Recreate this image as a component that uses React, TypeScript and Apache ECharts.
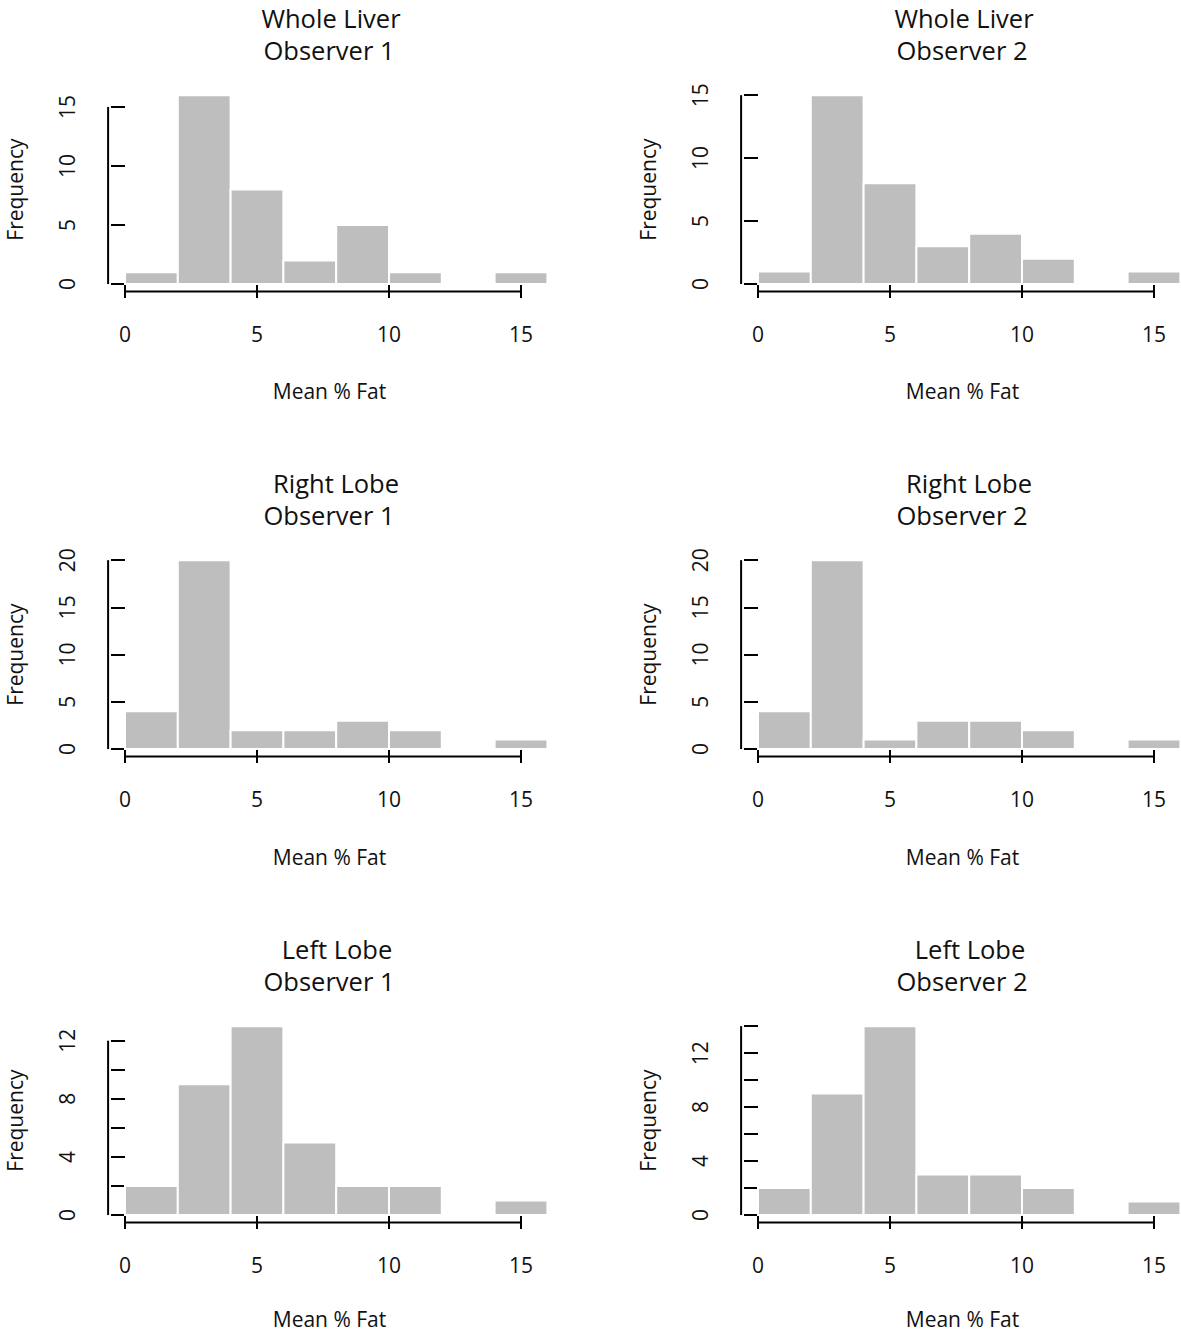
import React, { useEffect, useRef } from "react";
import * as echarts from "echarts";

// ---- data ----
const binEdges = [0, 2, 4, 6, 8, 10, 12, 14, 16];
const wholeLiverObs1 = [1, 16, 8, 2, 5, 1, 0, 1];
const wholeLiverObs2 = [1, 15, 8, 3, 4, 2, 0, 1];
const rightLobeObs1 = [4, 20, 2, 2, 3, 2, 0, 1];
const rightLobeObs2 = [4, 20, 1, 3, 3, 2, 0, 1];
const leftLobeObs1 = [2, 9, 13, 5, 2, 2, 0, 1];
const leftLobeObs2 = [2, 9, 14, 3, 3, 2, 0, 1];

const xTickValues = [0, 5, 10, 15];
const yTicksWhole = [0, 5, 10, 15];
const yTicksRight = [0, 5, 10, 15, 20];
const yTicksLeft1 = [0, 2, 4, 6, 8, 10, 12];
const yTicksLeft2 = [0, 2, 4, 6, 8, 10, 12, 14];
const yLabelsLeft = [0, 4, 8, 12];

const regionNames = ["Whole Liver", "Right Lobe", "Left Lobe"];
const observerNames = ["Observer 1", "Observer 2"];
const xAxisTitle = "Mean % Fat";
const yAxisTitle = "Frequency";

// ---- layout ----
const FONT = "'Open Sans', 'Noto Sans', sans-serif";
const CANVAS_W = 1181;
const PX_PER_X = 26.4;
const X_MIN = -0.64;
const PLOT_H = 204;
const colZeroX = [125, 758];
// right column is cropped at the canvas edge in the reference
const colXMax = [16.64, (CANVAS_W - 758) / PX_PER_X];
const rowTop = [87.6, 552.6, 1018.6];
const ROW_STEP = 465.5;
const xTitleY = [391, 856.5, 1319];

const panels = [
  { region: 0, obs: 0, counts: wholeLiverObs1, yTicks: yTicksWhole, yLabels: yTicksWhole, t1dx: 0 },
  { region: 0, obs: 1, counts: wholeLiverObs2, yTicks: yTicksWhole, yLabels: yTicksWhole, t1dx: 0 },
  { region: 1, obs: 0, counts: rightLobeObs1, yTicks: yTicksRight, yLabels: yTicksRight, t1dx: 5 },
  { region: 1, obs: 1, counts: rightLobeObs2, yTicks: yTicksRight, yLabels: yTicksRight, t1dx: 5 },
  { region: 2, obs: 0, counts: leftLobeObs1, yTicks: yTicksLeft1, yLabels: yLabelsLeft, t1dx: 6 },
  { region: 2, obs: 1, counts: leftLobeObs2, yTicks: yTicksLeft2, yLabels: yLabelsLeft, t1dx: 6 },
];

function buildOption() {
  const grid: any[] = [];
  const xAxis: any[] = [];
  const yAxis: any[] = [];
  const series: any[] = [];
  const graphic: any[] = [];

  panels.forEach((p, i) => {
    const col = p.obs;
    const row = p.region;
    const xMax = colXMax[col];
    const left = colZeroX[col] + X_MIN * PX_PER_X;
    const width = (xMax - X_MIN) * PX_PER_X;
    const top = rowTop[row];
    const yMax = Math.max(...p.counts);
    const yMin = -0.04 * yMax;
    const yTop = 1.04 * yMax;

    grid.push({ left, top, width, height: PLOT_H, containLabel: false });

    xAxis.push({
      type: "value",
      gridIndex: i,
      min: X_MIN,
      max: xMax,
      axisLine: { show: false },
      splitLine: { show: false },
      axisTick: {
        show: true,
        customValues: xTickValues,
        length: 14,
        lineStyle: { color: "#000", width: 2 },
      },
      axisLabel: {
        customValues: xTickValues,
        margin: 32,
        fontSize: 21,
        color: "#111",
        fontFamily: FONT,
      },
    });

    yAxis.push({
      type: "value",
      gridIndex: i,
      min: yMin,
      max: yTop,
      axisLine: { show: false },
      splitLine: { show: false },
      axisTick: {
        show: true,
        customValues: p.yTicks,
        length: 14,
        lineStyle: { color: "#000", width: 2 },
      },
      axisLabel: {
        customValues: p.yLabels,
        rotate: 90,
        margin: 31,
        fontSize: 21,
        color: "#111",
        fontFamily: FONT,
      },
    });

    const binData = p.counts.map((c, k) => [binEdges[k], binEdges[k + 1], c]);

    series.push({
      type: "custom",
      xAxisIndex: i,
      yAxisIndex: i,
      data: binData,
      clip: false,
      renderItem: (params: any, api: any) => {
        const c = api.value(2);
        if (!c) return null;
        const p0 = api.coord([api.value(0), c]);
        const p1 = api.coord([api.value(1), 0]);
        return {
          type: "rect",
          shape: { x: p0[0], y: p0[1], width: p1[0] - p0[0], height: p1[1] - p0[1] },
          style: { fill: "#bebebe", stroke: "#ffffff", lineWidth: 2 },
        };
      },
    });

    // x axis line from first to last tick (R style)
    series.push({
      type: "line",
      xAxisIndex: i,
      yAxisIndex: i,
      data: [
        [xTickValues[0], yMin],
        [xTickValues[xTickValues.length - 1], yMin],
      ],
      symbol: "none",
      clip: false,
      silent: true,
      lineStyle: { color: "#000", width: 2 },
    });
    // y axis line
    series.push({
      type: "line",
      xAxisIndex: i,
      yAxisIndex: i,
      data: [
        [X_MIN, p.yTicks[0]],
        [X_MIN, p.yTicks[p.yTicks.length - 1]],
      ],
      symbol: "none",
      clip: false,
      silent: true,
      lineStyle: { color: "#000", width: 2 },
    });

    const centerX = colZeroX[col] + 206;
    const rowOff = row * ROW_STEP;
    graphic.push({
      type: "text",
      x: centerX + p.t1dx,
      y: 17.5 + rowOff,
      style: {
        text: regionNames[p.region],
        fontSize: 25.5,
        lineHeight: 28,
        fontFamily: FONT,
        fill: "#111",
        align: "center",
        verticalAlign: "middle",
      },
    });
    graphic.push({
      type: "text",
      x: centerX - 2,
      y: 49.5 + rowOff,
      style: {
        text: observerNames[p.obs],
        fontSize: 25.5,
        lineHeight: 28,
        fontFamily: FONT,
        fill: "#111",
        align: "center",
        verticalAlign: "middle",
      },
    });
    graphic.push({
      type: "text",
      x: centerX - 1.5,
      y: xTitleY[row],
      style: {
        text: xAxisTitle,
        fontSize: 21,
        lineHeight: 20,
        fontFamily: FONT,
        fill: "#111",
        align: "center",
        verticalAlign: "middle",
      },
    });
    graphic.push({
      type: "text",
      x: colZeroX[col] - 110.5,
      y: top + PLOT_H / 2,
      rotation: Math.PI / 2,
      style: {
        text: yAxisTitle,
        fontSize: 21,
        lineHeight: 20,
        fontFamily: FONT,
        fill: "#111",
        align: "center",
        verticalAlign: "middle",
      },
    });
  });

  return {
    animation: false,
    backgroundColor: "#ffffff",
    grid,
    xAxis,
    yAxis,
    series,
    graphic,
  };
}

export default function App() {
  const ref = useRef<HTMLDivElement>(null);
  useEffect(() => {
    if (!ref.current) return;
    const chart = echarts.init(ref.current, null, { renderer: "svg" });
    chart.setOption(buildOption() as any);
    return () => chart.dispose();
  }, []);
  return (
    <div
      ref={ref}
      style={{ position: "absolute", left: 0, top: 0, width: CANVAS_W, height: 1334 }}
    />
  );
}
